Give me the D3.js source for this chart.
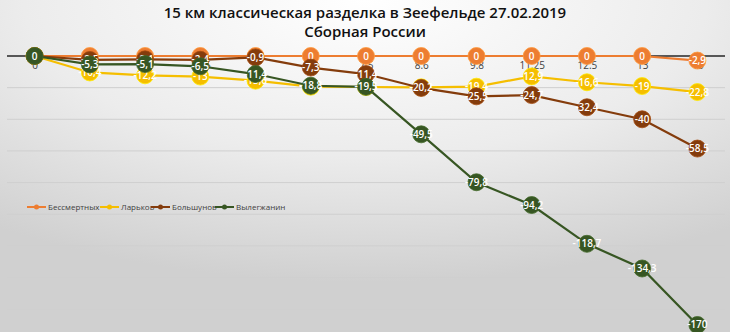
<!DOCTYPE html>
<html>
<head>
<meta charset="utf-8">
<script src="https://cdn.jsdelivr.net/npm/d3@7/dist/d3.min.js"></script>
<style>
  html, body { margin: 0; padding: 0; }
  body { width: 730px; height: 332px; overflow: hidden; }
</style>
</head>
<body>
<svg id="chart" width="730" height="332"></svg>
<script>
// Split points (km) along the 15 km course
const splits = ["0", "1.2", "2.5", "3.75", "5", "6.2", "7.5", "8.6", "9.8", "11.25", "12.5", "13", "15"];

// Time behind the team leader at each split, seconds
const bessmertnykh = [0, 0, 0, 0, 0, 0, 0, 0, 0, 0, 0, 0, -2.9];
const larkov       = [0, -10.4, -12.2, -13, -15.6, -19.4, -19.6, -19.8, -19.4, -12.9, -16.6, -19, -22.8];
const bolshunov    = [0, -2.5, -2.1, -2.4, -0.9, -7.3, -11.4, -20.2, -25.5, -24.7, -32.4, -40, -58.5];
const vylegzhanin  = [0, -5.3, -5.1, -6.5, -11.4, -18.8, -19.5, -49.5, -79.8, -94.2, -118.7, -134.3, -170];

const seriesNames = ["Бессмертных", "Ларьков", "Большунов", "Вылегжанин"];
const seriesValues = [bessmertnykh, larkov, bolshunov, vylegzhanin];
const seriesColors = ["#ED7D31", "#F5BE00", "#843C0C", "#375623"];

const gridValues = [-20, -40, -60, -80, -100, -120, -140, -160];

const svg = d3.select("#chart");
const W = 730, H = 332;

// Background: soft light-grey radial fade
const defs = svg.append("defs");
const bg = defs.append("radialGradient")
  .attr("id", "bgGrad")
  .attr("cx", "50%").attr("cy", "0%").attr("r", "85%")
  .attr("fx", "50%").attr("fy", "0%");
bg.append("stop").attr("offset", "0%").attr("stop-color", "#ffffff");
bg.append("stop").attr("offset", "55%").attr("stop-color", "#ececec");
bg.append("stop").attr("offset", "100%").attr("stop-color", "#d0d0d0");
svg.append("rect").attr("width", W).attr("height", H).attr("fill", "url(#bgGrad)");

// Scales
const x = d3.scalePoint().domain(splits).range([7, 725]).padding(0.5);
const y = d3.scaleLinear().domain([-180, 0]).range([340.8, 56]);

// Title
[["15 км классическая разделка в Зеефельде 27.02.2019", 18], ["Сборная России", 37]].forEach(([t, ty]) => {
  svg.append("text")
    .attr("x", 365).attr("y", ty)
    .attr("text-anchor", "middle")
    .attr("font-family", "'Open Sans', sans-serif")
    .attr("font-size", 15)
    .attr("font-weight", 600)
    .attr("fill", "#111111")
    .text(t);
});

// Horizontal gridlines
svg.append("g")
  .selectAll("line")
  .data(gridValues)
  .join("line")
  .attr("x1", 7).attr("x2", 725)
  .attr("y1", d => y(d)).attr("y2", d => y(d))
  .attr("stroke", "#cfcfcf")
  .attr("stroke-width", 1);

// Category axis along zero
const xAxis = svg.append("g")
  .attr("transform", `translate(0,${y(0)})`)
  .call(d3.axisBottom(x).tickSize(0).tickPadding(6));
xAxis.select(".domain")
  .attr("d", `M7,0H725`)
  .attr("stroke", "#262626")
  .attr("stroke-width", 1.5);
xAxis.selectAll("text")
  .attr("font-family", "'Open Sans', sans-serif")
  .attr("font-size", 10)
  .attr("fill", "#404040");

// Series: line, markers, value labels
const fmt = v => String(v).replace(".", ",");
const lineGen = d3.line().x((d, i) => x(splits[i])).y(d => y(d));

seriesValues.forEach((vals, si) => {
  const g = svg.append("g");
  g.append("path")
    .datum(vals)
    .attr("d", lineGen)
    .attr("fill", "none")
    .attr("stroke", seriesColors[si])
    .attr("stroke-width", 2.2);
  g.selectAll("circle")
    .data(vals)
    .join("circle")
    .attr("cx", (d, i) => x(splits[i]))
    .attr("cy", d => y(d))
    .attr("r", 8.5)
    .attr("fill", seriesColors[si])
    .attr("stroke", d3.color(seriesColors[si]).brighter(0.6))
    .attr("stroke-width", 0.8);
  g.selectAll("text")
    .data(vals)
    .join("text")
    .attr("x", (d, i) => x(splits[i]))
    .attr("y", d => y(d) + 3.5)
    .attr("text-anchor", "middle")
    .attr("font-family", "'Open Sans', sans-serif")
    .attr("font-size", 10)
    .attr("font-weight", 600)
    .attr("fill", "#ffffff")
    .text(d => fmt(d));
});

// Legend
const legendX = [27, 100, 151, 215];
const legend = svg.append("g").attr("transform", "translate(0,207)");
seriesNames.forEach((name, i) => {
  const lg = legend.append("g").attr("transform", `translate(${legendX[i]},0)`);
  lg.append("line")
    .attr("x1", 0).attr("x2", 19).attr("y1", 0).attr("y2", 0)
    .attr("stroke", seriesColors[i]).attr("stroke-width", 2);
  lg.append("circle")
    .attr("cx", 9.5).attr("cy", 0).attr("r", 2.5)
    .attr("fill", seriesColors[i]);
  lg.append("text")
    .attr("x", 21).attr("y", 3)
    .attr("font-family", "'Open Sans', sans-serif")
    .attr("font-size", 8)
    .attr("fill", "#404040")
    .text(name);
});
</script>
</body>
</html>
